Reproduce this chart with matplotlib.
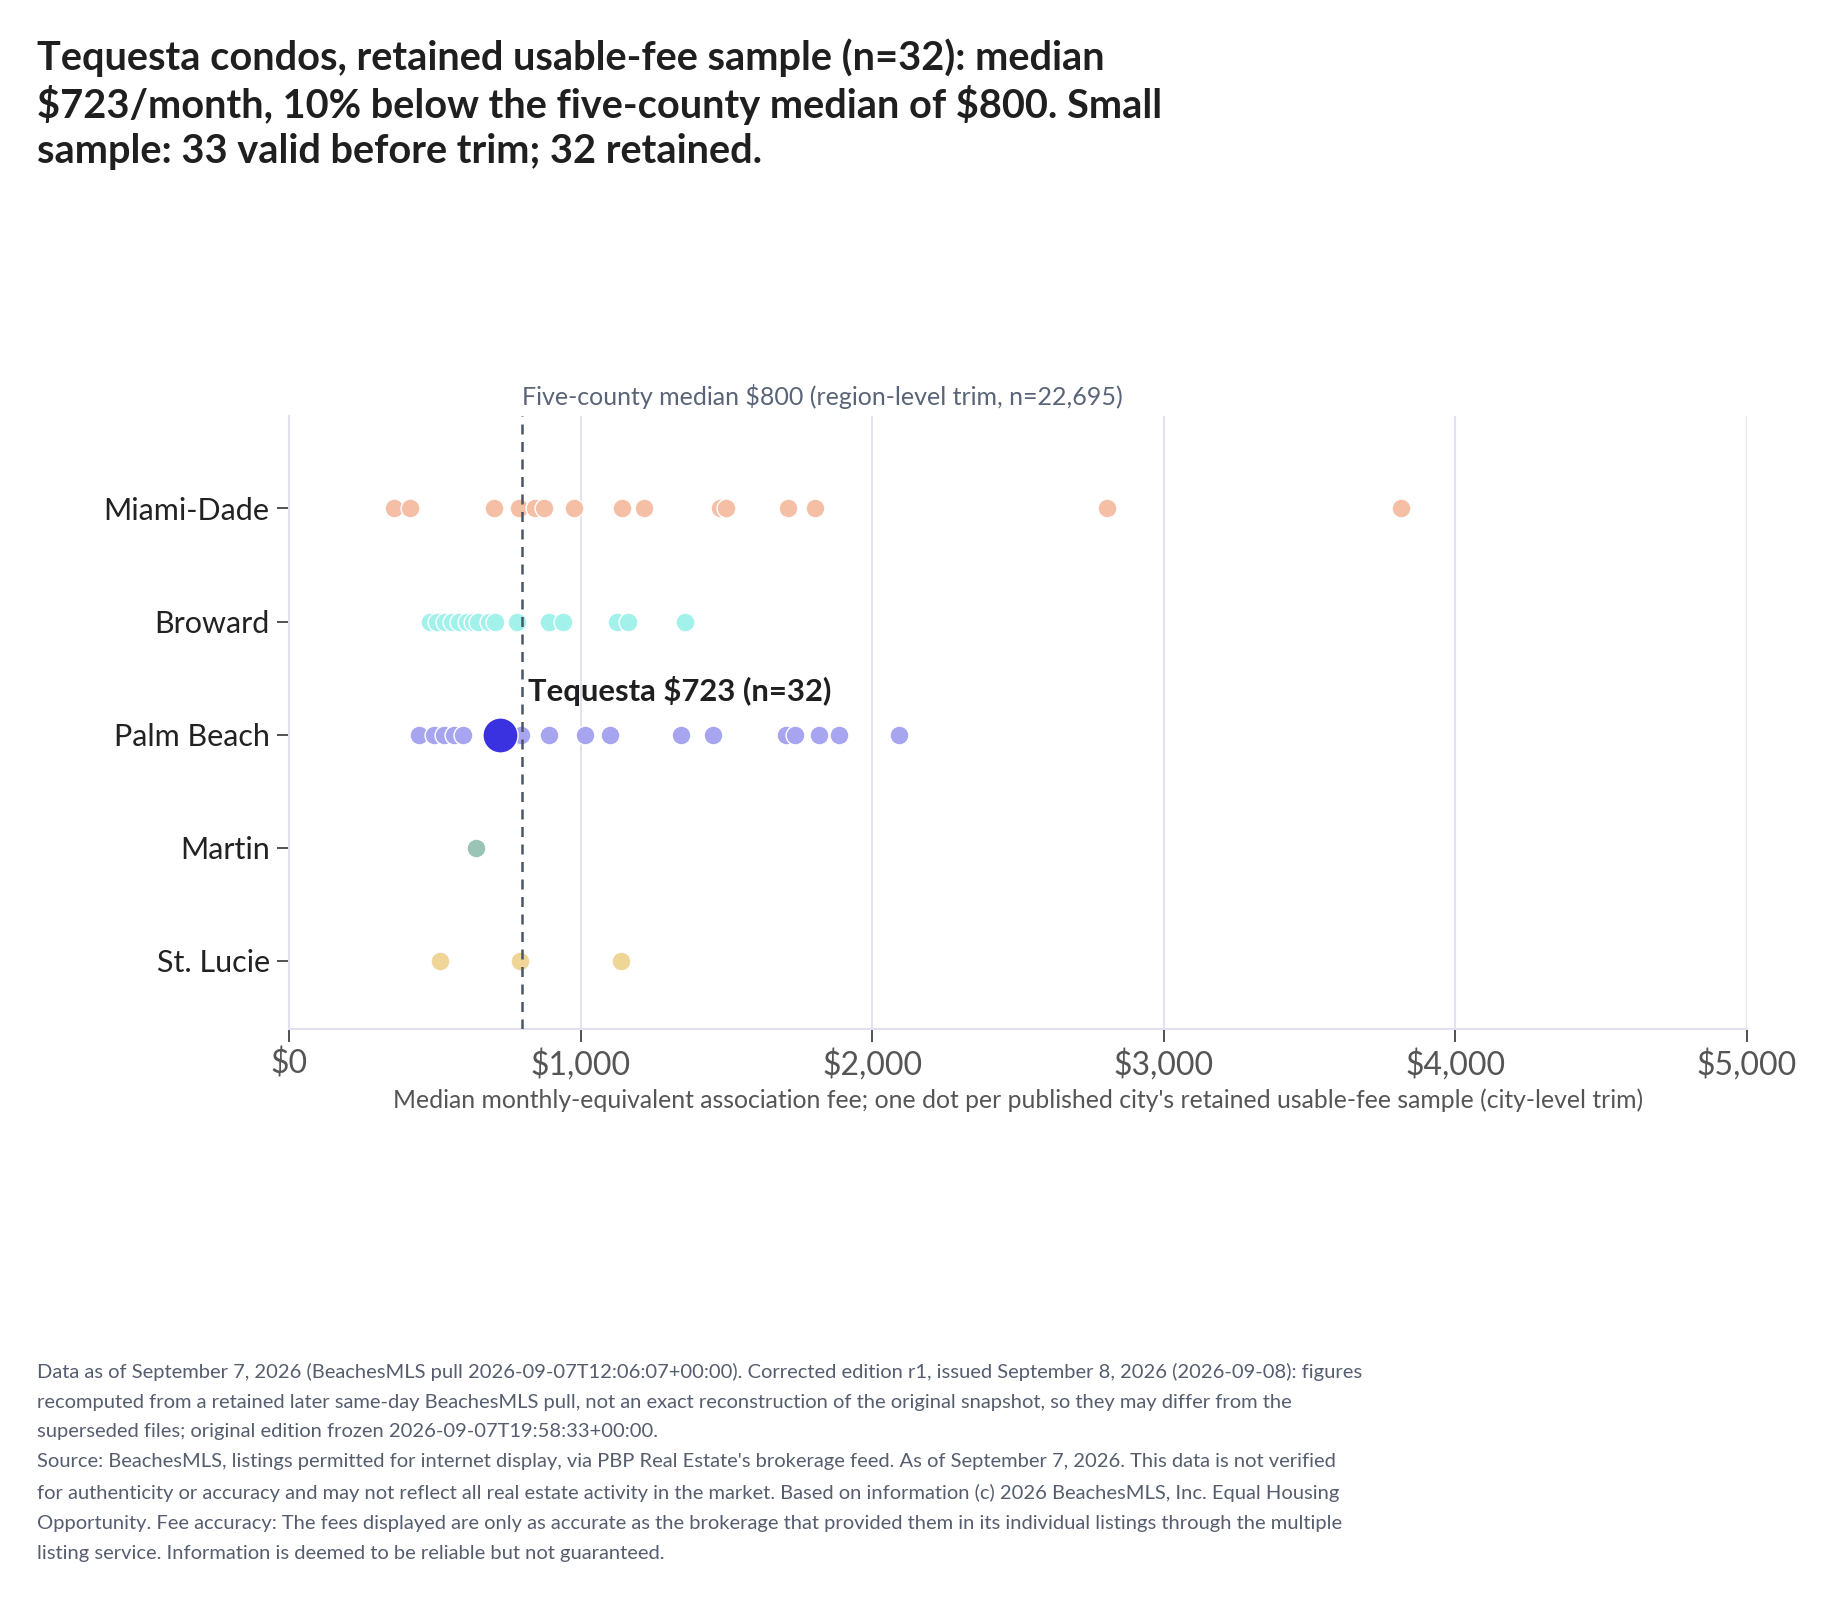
import matplotlib.pyplot as plt
import numpy as np
from matplotlib.ticker import FuncFormatter

plt.rcParams['font.family'] = ['Lato', 'DejaVu Sans']
plt.rcParams['text.parse_math'] = False

# county rows, top to bottom
counties = ['Miami-Dade', 'Broward', 'Palm Beach', 'Martin', 'St. Lucie']

# median monthly fee per published city
miami_dade = [360, 414, 702, 789, 843, 874, 976, 1142, 1218, 1479, 1497, 1712, 1804, 2805, 3815]
broward = [484, 508, 534, 559, 584, 610, 629, 647, 686, 706, 780, 893, 941, 1124, 1164, 1357]
palm_beach = [447, 498, 532, 567, 598, 794, 893, 1016, 1099, 1344, 1453, 1704, 1736, 1816, 1885, 2092]
martin = [641]
st_lucie = [517, 793, 1138]

county_values = [miami_dade, broward, palm_beach, martin, st_lucie]
county_colors = ['#F5BFA6', '#A2F1EB', '#A7A5EF', '#9AC4B5', '#EFD596']

tequesta_fee = 723
tequesta_n = 32
region_median = 800
region_n = '22,695'

fig = plt.figure(figsize=(18.3, 16.05), dpi=100)
ax = fig.add_axes([0.158, 0.359, 0.7965, 0.382])

for i, (vals, col) in enumerate(zip(county_values, county_colors)):
    ax.scatter(vals, [i] * len(vals), s=185, color=col, edgecolor='white',
               linewidth=1.0, zorder=3)

# highlighted city
ax.scatter([tequesta_fee], [2], s=640, color='#3A31E0', edgecolor='white',
           linewidth=1.0, zorder=5)
ax.text(tequesta_fee + 97, 2 - 0.39, f'Tequesta ${tequesta_fee} (n={tequesta_n})',
        fontsize=22.3, fontweight='bold', color='#1F1F1F', va='center', ha='left', zorder=6)

# region median line
ax.axvline(region_median, color='#4B5568', linestyle=(0, (4, 3)), linewidth=1.8, zorder=4)
ax.text(region_median, -0.88, f'Five-county median ${region_median} (region-level trim, n={region_n})',
        fontsize=18, color='#5A6478', ha='left', va='bottom')

ax.set_xlim(0, 5000)
ax.set_ylim(4.6, -0.82)
ax.set_xticks(np.arange(0, 5001, 1000))
ax.xaxis.set_major_formatter(FuncFormatter(lambda v, p: f'${v:,.0f}'))
ax.set_yticks(range(len(counties)))
ax.set_yticklabels(counties)
ax.grid(axis='x', color='#E3E3F0', linewidth=1.5, zorder=0)
ax.set_axisbelow(True)

for s in ['top', 'right']:
    ax.spines[s].set_visible(False)
for s in ['left', 'bottom']:
    ax.spines[s].set_color('#E0E0EE')
    ax.spines[s].set_linewidth(1.5)

ax.tick_params(axis='y', labelsize=22, colors='#333333', length=9, width=1.2, pad=5,
               labelcolor='#222222')
ax.tick_params(axis='x', labelsize=23, colors='#333333', length=9, width=1.2, pad=5,
               labelcolor='#555555')

ax.set_xlabel("Median monthly-equivalent association fee; one dot per published city's retained usable-fee sample (city-level trim)",
              fontsize=17.8, color='#555555', labelpad=6)

title = ('Tequesta condos, retained usable-fee sample (n=32): median\n'
         '$723/month, 10% below the five-county median of $800. Small\n'
         'sample: 33 valid before trim; 32 retained.')
fig.text(0.02, 0.976, title, fontsize=28.6, fontweight='bold', color='#1F1F1F',
         ha='left', va='top', linespacing=1.25)

footer = ('Data as of September 7, 2026 (BeachesMLS pull 2026-09-07T12:06:07+00:00). Corrected edition r1, issued September 8, 2026 (2026-09-08): figures\n'
          'recomputed from a retained later same-day BeachesMLS pull, not an exact reconstruction of the original snapshot, so they may differ from the\n'
          'superseded files; original edition frozen 2026-09-07T19:58:33+00:00.\n'
          "Source: BeachesMLS, listings permitted for internet display, via PBP Real Estate's brokerage feed. As of September 7, 2026. This data is not verified\n"
          'for authenticity or accuracy and may not reflect all real estate activity in the market. Based on information (c) 2026 BeachesMLS, Inc. Equal Housing\n'
          'Opportunity. Fee accuracy: The fees displayed are only as accurate as the brokerage that provided them in its individual listings through the multiple\n'
          'listing service. Information is deemed to be reliable but not guaranteed.')
fig.text(0.02, 0.151, footer, fontsize=14.5, color='#555D6E', ha='left', va='top',
         linespacing=1.92)

fig.savefig('out.png', dpi=100, facecolor='white')
